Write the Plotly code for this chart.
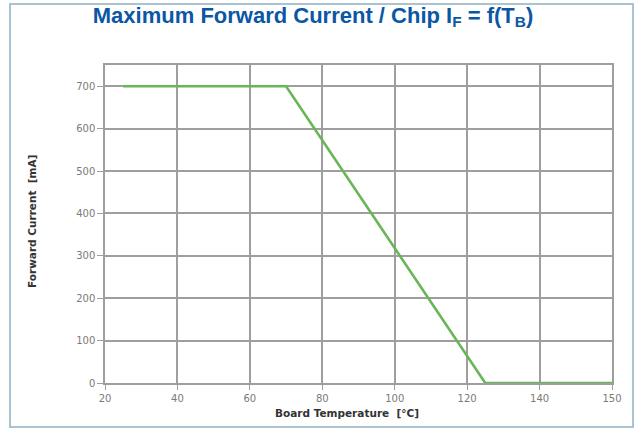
import plotly.graph_objects as go

# Data
temps = [25, 70, 125, 160]          # board temperature positions (last gridline is labelled "150")
current = [700, 700, 0, 0]          # maximum forward current [mA]

x_tickvals = [20, 40, 60, 80, 100, 120, 140, 160]
x_ticktext = ["20", "40", "60", "80", "100", "120", "140", "150"]
y_tickvals = [0, 100, 200, 300, 400, 500, 600, 700]

W, H = 637, 430
L, R, T, B = 105, 25, 65, 47
PW, PH = W - L - R, H - T - B

fig = go.Figure()
fig.add_trace(go.Scatter(
    x=temps, y=current, mode="lines",
    line=dict(color="#68b656", width=2.6),
    hoverinfo="skip", showlegend=False,
))

grid = "#9e9e9e"
tick_font = dict(family="DejaVu Sans, Verdana, sans-serif", size=10, color="#7a7a7a")
title_font = dict(family="DejaVu Sans, Verdana, sans-serif", size=10.5, color="#333333")

fig.update_layout(
    width=W, height=H,
    margin=dict(l=L, r=R, t=T, b=B),
    paper_bgcolor="white", plot_bgcolor="white",
    font=dict(family="DejaVu Sans, sans-serif", color="#777777", size=10),
    title=dict(
        text="<b>Maximum Forward Current / Chip I<sub>F</sub> = f(T<sub>B</sub>)</b>",
        font=dict(family="Liberation Sans, Arial, sans-serif", size=22, color="#0b57a4"),
        x=313 / W, xanchor="center", xref="container",
        y=1 - 15 / H, yanchor="middle", yref="container",
    ),
    xaxis=dict(
        range=[20, 160], tickvals=x_tickvals, ticktext=x_ticktext,
        showgrid=True, gridcolor=grid, gridwidth=1.5,
        showline=True, linecolor=grid, linewidth=1.5, mirror=True,
        ticks="outside", ticklen=5, tickcolor=grid, tickwidth=1.2,
        zeroline=False, tickfont=tick_font,
    ),
    yaxis=dict(
        range=[0, 750], tickvals=y_tickvals,
        showgrid=True, gridcolor=grid, gridwidth=1.5,
        showline=True, linecolor=grid, linewidth=1.5, mirror=True,
        ticks="outside", ticklen=6, tickcolor=grid, tickwidth=1.2,
        zeroline=False, tickfont=tick_font,
    ),
    annotations=[
        dict(text="<b>Forward Current  [mA]</b>", xref="paper", yref="paper",
             x=-(L - 32) / PW, y=1 - (222 - T) / PH, textangle=-90, showarrow=False,
             xanchor="center", yanchor="middle", font=title_font),
        dict(text="<b>Board Temperature  [°C]</b>", xref="paper", yref="paper",
             x=(347 - L) / PW, y=-(413 - (H - B)) / PH, showarrow=False,
             xanchor="center", yanchor="middle", font=title_font),
    ],
    shapes=[
        dict(type="rect", xref="paper", yref="paper",
             x0=-(L - 10) / PW, x1=1 + (633 - (W - R)) / PW,
             y0=-(427 - (H - B)) / PH, y1=1 + (T - 4) / PH,
             line=dict(color="#a9c3d2", width=2), layer="below"),
    ],
)

fig.write_html("out.html", config={"displayModeBar": False},
               post_script="document.body.style.margin='0';")
